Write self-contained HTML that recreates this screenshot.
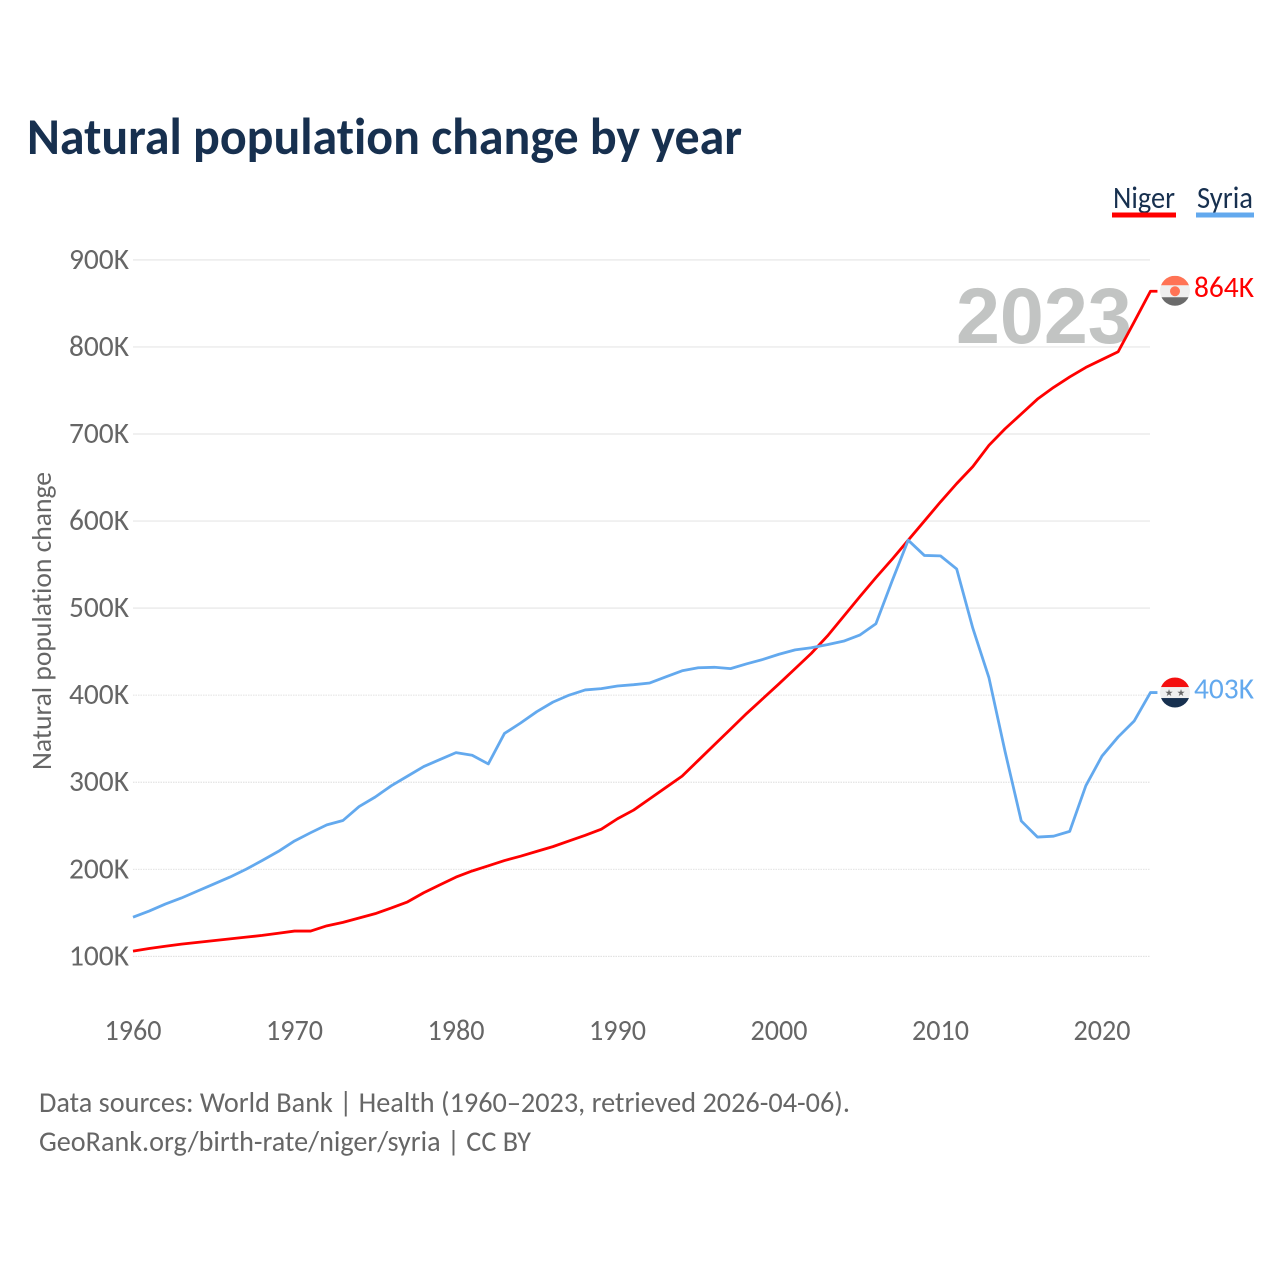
<!DOCTYPE html>
<html lang="en">
<head>
<meta charset="utf-8">
<title>Natural population change by year</title>
<style>
html,body{margin:0;padding:0;background:#fff;width:1280px;height:1280px;overflow:hidden}
svg{display:block}
text{font-family:"Carlito","Lato","Liberation Sans",sans-serif;font-variant-ligatures:none}
</style>
</head>
<body>
<svg id="chart" width="1280" height="1280" viewBox="0 0 1280 1280" xmlns="http://www.w3.org/2000/svg">
  <defs>
    <clipPath id="flag-clip"><circle cx="0" cy="0" r="15"/></clipPath>
  </defs>
  <text x="27" y="154" font-size="52" font-weight="700" fill="#17304f" textLength="715" lengthAdjust="spacingAndGlyphs">Natural population change by year</text>

  <g id="grid"></g>
  <g id="yticks"></g>
  <g id="xticks"></g>

  <text transform="translate(51,621) rotate(-90)" text-anchor="middle" font-size="28" fill="#666" textLength="298" lengthAdjust="spacingAndGlyphs">Natural population change</text>

  <text x="956" y="343" font-size="79" font-weight="700" fill="#c2c4c3" style="font-family:'Liberation Sans',sans-serif">2023</text>

  <g id="series"></g>

  <g id="flag-niger">
    <g clip-path="url(#flag-clip)">
      <rect x="-15" y="-15" width="30" height="10" fill="#ff7355"/>
      <rect x="-15" y="-5.5" width="30" height="12" fill="#efefef"/>
      <rect x="-15" y="6.5" width="30" height="9" fill="#6b6b6b"/>
      <circle cx="0" cy="0.5" r="5" fill="#ff7355"/>
    </g>
  </g>
  <g id="flag-syria">
    <g clip-path="url(#flag-clip)">
      <rect x="-15" y="-15" width="30" height="10" fill="#f40f0f"/>
      <rect x="-15" y="-5.5" width="30" height="11" fill="#efefef"/>
      <rect x="-15" y="5.5" width="30" height="10" fill="#17304f"/>
    </g>
    <text x="-6" y="3.5" font-size="9.5" text-anchor="middle" fill="#666" style="font-family:'DejaVu Sans',sans-serif">★</text>
    <text x="6" y="3.5" font-size="9.5" text-anchor="middle" fill="#666" style="font-family:'DejaVu Sans',sans-serif">★</text>
  </g>

  <text id="label-niger" x="1194" font-size="29.5" fill="#ff0000" textLength="60" lengthAdjust="spacingAndGlyphs"></text>
  <text id="label-syria" x="1194" font-size="29.5" fill="#63a9ee" textLength="60" lengthAdjust="spacingAndGlyphs"></text>

  <g>
    <g>
      <text x="1113" y="208" font-size="31" fill="#17304f" textLength="62" lengthAdjust="spacingAndGlyphs">Niger</text>
      <rect x="1112" y="212.5" width="64" height="5" fill="#ff0000"/>
    </g>
    <g>
      <text x="1197" y="208" font-size="31" fill="#17304f" textLength="56" lengthAdjust="spacingAndGlyphs">Syria</text>
      <rect x="1196" y="212.5" width="58" height="5" fill="#63a9ee"/>
    </g>
  </g>

  <text x="39" y="1112" font-size="29" fill="#666" textLength="811" lengthAdjust="spacingAndGlyphs">Data sources: World Bank | Health (1960–2023, retrieved 2026-04-06).</text>
  <text x="39" y="1151" font-size="29" fill="#666" textLength="492" lengthAdjust="spacingAndGlyphs">GeoRank.org/birth-rate/niger/syria | CC BY</text>
</svg>
<script>
const startYear = 1960;
const xTickYears = [1960, 1970, 1980, 1990, 2000, 2010, 2020];
const yTickValues = [100, 200, 300, 400, 500, 600, 700, 800, 900];
const yTickLabels = ['100K', '200K', '300K', '400K', '500K', '600K', '700K', '800K', '900K'];
const nigerValues = [106, 109, 111.5, 114, 116, 118, 120, 122, 124, 126.5,
  129, 129, 135, 139, 144, 149, 155.5, 162.5, 173, 182,
  191, 198, 204, 210, 215, 220.5, 226, 232.5, 239, 246,
  258, 268, 281, 294, 307, 325, 343, 361, 379, 396,
  413, 430.5, 448, 468, 490.5, 513, 535, 556, 578, 600,
  622, 643, 662.5, 687, 706, 723, 740, 753.5, 765.5, 776.5,
  785.5, 794.5, 829, 864];
const syriaValues = [145, 152, 160, 167, 175, 183, 191, 200, 210, 220.5,
  232.5, 242, 251, 256, 272, 283, 296, 307, 318, 326,
  334, 331, 321, 356, 368, 381, 392, 400, 406, 407.5,
  410.5, 412, 414, 421, 428, 431.5, 432, 430.5, 436, 441,
  447, 452, 454.5, 458, 462, 469, 482, 531, 578, 560.5,
  560, 545, 477, 420, 335, 255.5, 237, 238, 243.5, 296,
  330, 352, 370.5, 403];
const nigerEndLabel = '864K';
const syriaEndLabel = '403K';

const NS = 'http://www.w3.org/2000/svg';
const xScale = function (year) { return 133 + (year - startYear) * 16.15; };
const yScale = function (v) { return 956.3 - (v - 100) * 0.8705; };

function make(tag, attrs, parent) {
  const el = document.createElementNS(NS, tag);
  for (const k in attrs) el.setAttribute(k, attrs[k]);
  parent.appendChild(el);
  return el;
}

const grid = document.getElementById('grid');
const yticks = document.getElementById('yticks');
const xticks = document.getElementById('xticks');
const series = document.getElementById('series');

yTickValues.forEach(function (v, i) {
  const y = yScale(v);
  const solid = v >= 500;
  const line = make('line', {
    x1: 133, x2: 1150, y1: y, y2: y,
    stroke: solid ? '#eeeeee' : '#d8d8d8',
    'stroke-width': solid ? 1.7 : 0.8,
    'stroke-dasharray': solid ? 'none' : '1.5 1'
  }, grid);
  
  
  const t = make('text', {
    x: 129, y: y + 9, 'text-anchor': 'end', 'font-size': 30, fill: '#666',
    textLength: 60, lengthAdjust: 'spacingAndGlyphs'
  }, yticks);
  
  
  t.textContent = yTickLabels[i];
});

xTickYears.forEach(function (yr) {
  const t = make('text', {
    x: xScale(yr), y: 1040, 'text-anchor': 'middle', 'font-size': 30, fill: '#666',
    textLength: 57, lengthAdjust: 'spacingAndGlyphs'
  }, xticks);
  
  
  t.textContent = String(yr);
});

function linePath(values) {
  const pts = values.map(function (v, i) {
    return xScale(startYear + i).toFixed(2) + ',' + yScale(v).toFixed(2);
  });
  const endX = xScale(startYear + values.length - 1) + 7;
  const endY = yScale(values[values.length - 1]);
  pts.push(endX.toFixed(2) + ',' + endY.toFixed(2));
  return pts.join(' ');
}

const nigerLine = make('polyline', {
  points: linePath(nigerValues), fill: 'none', stroke: '#ff0000',
  'stroke-width': 2.8, 'stroke-linejoin': 'round'
}, series);



const syriaLine = make('polyline', {
  points: linePath(syriaValues), fill: 'none', stroke: '#63a9ee',
  'stroke-width': 2.8, 'stroke-linejoin': 'round'
}, series);



const nigerEndY = yScale(nigerValues[nigerValues.length - 1]);
const syriaEndY = yScale(syriaValues[syriaValues.length - 1]);
document.getElementById('flag-niger').setAttribute('transform', 'translate(1175,' + (nigerEndY - 0.5) + ')');
document.getElementById('flag-syria').setAttribute('transform', 'translate(1175,' + syriaEndY + ')');
const ln = document.getElementById('label-niger');
ln.setAttribute('y', nigerEndY + 6);
ln.textContent = nigerEndLabel;
const ls = document.getElementById('label-syria');
ls.setAttribute('y', syriaEndY + 6);
ls.textContent = syriaEndLabel;
</script>
</body>
</html>
